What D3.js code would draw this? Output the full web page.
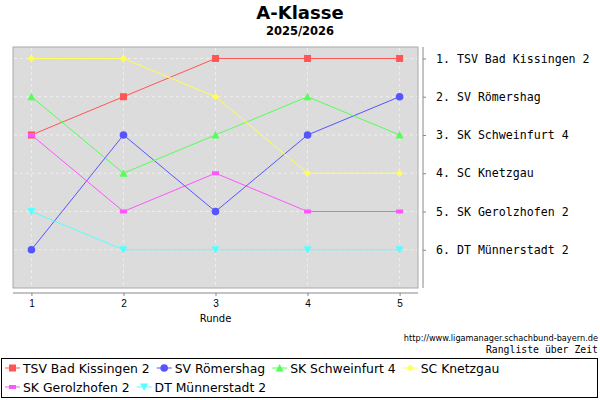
<!DOCTYPE html>
<html>
<head>
<meta charset="utf-8">
<script src="https://cdn.jsdelivr.net/npm/d3@7"></script>
<style>
  body { margin: 0; background: #fff; }
  svg { display: block; }
</style>
</head>
<body>
<script>
// Chart data
const rounds = [1, 2, 3, 4, 5];
const teams = ['TSV Bad Kissingen 2', 'SV Römershag', 'SK Schweinfurt 4', 'SC Knetzgau', 'SK Gerolzhofen 2', 'DT Münnerstadt 2'];
const kissingen = [3, 2, 1, 1, 1];
const roemershag = [6, 3, 5, 3, 2];
const schweinfurt = [2, 4, 3, 2, 3];
const knetzgau = [1, 1, 2, 4, 4];
const gerolzhofen = [3, 5, 4, 5, 5];
const muennerstadt = [5, 6, 6, 6, 6];
const ranks = [1, 2, 3, 4, 5, 6];
const finalTable = ['1. TSV Bad Kissingen 2', '2. SV Römershag', '3. SK Schweinfurt 4', '4. SC Knetzgau', '5. SK Gerolzhofen 2', '6. DT Münnerstadt 2'];

const colors = ['#ff5555', '#5555ff', '#55ff55', '#ffff55', '#ff55ff', '#55ffff'];
const shapes = ['square', 'circle', 'triangle', 'diamond', 'rect', 'triangleDown'];

function drawChart() {
  const W = 600, H = 400;
  const plot = { left: 13, top: 47, right: 418, bottom: 288 };

  const svg = d3.select('body').append('svg')
    .attr('width', W).attr('height', H)
    .style('font-family', '"DejaVu Sans", sans-serif');

  const x = d3.scaleLinear().domain([0.8, 5.2]).range([plot.left, plot.right]);
  const y = d3.scaleLinear().domain([0.7, 7]).range([plot.top, plot.bottom]);

  // Titles
  svg.append('text').attr('x', 300).attr('y', 19).attr('text-anchor', 'middle')
    .style('font-weight', 'bold').style('font-size', '18px').text('A-Klasse');
  svg.append('text').attr('x', 300).attr('y', 35).attr('text-anchor', 'middle')
    .style('font-weight', 'bold').style('font-size', '11.5px').text('2025/2026');

  // Plot background
  svg.append('rect')
    .attr('x', plot.left).attr('y', plot.top)
    .attr('width', plot.right - plot.left).attr('height', plot.bottom - plot.top)
    .attr('fill', '#dcdcdc').attr('stroke', '#aaaaaa');

  // Grid
  svg.append('g').selectAll('line.v').data(rounds).enter().append('line')
    .attr('x1', d => x(d)).attr('x2', d => x(d))
    .attr('y1', plot.top + 1).attr('y2', plot.bottom - 1)
    .attr('stroke', '#f4f4f4').attr('stroke-width', 0.8).attr('stroke-dasharray', '3,3');
  svg.append('g').selectAll('line.h').data(ranks).enter().append('line')
    .attr('y1', d => y(d)).attr('y2', d => y(d))
    .attr('x1', plot.left + 1).attr('x2', plot.right - 1)
    .attr('stroke', '#f4f4f4').attr('stroke-width', 0.8).attr('stroke-dasharray', '3,3');

  // Bottom axis
  const xAxis = svg.append('g')
    .attr('transform', `translate(0, 293)`)
    .call(d3.axisBottom(x).tickValues(rounds).tickSize(3).tickPadding(4).tickFormat(d3.format('d')));
  xAxis.select('.domain').attr('d', `M${plot.left},0H${plot.right}`).attr('stroke', '#888');
  xAxis.selectAll('.tick line').attr('stroke', '#888');
  xAxis.selectAll('text').style('font-size', '10px').attr('fill', '#000');

  svg.append('text').attr('x', x(3)).attr('y', 322).attr('text-anchor', 'middle')
    .style('font-size', '10px').text('Runde');

  // Right axis with final ranking
  const yAxis = svg.append('g')
    .attr('transform', `translate(423, 0)`)
    .call(d3.axisRight(y).tickValues(ranks).tickSize(3).tickPadding(10).tickFormat((d, i) => finalTable[i]));
  yAxis.select('.domain').attr('d', `M0,${plot.top}V${plot.bottom}`).attr('stroke', '#888');
  yAxis.selectAll('.tick line').attr('stroke', '#888');
  yAxis.selectAll('text')
    .style('font-family', '"DejaVu Sans Mono", monospace').style('font-size', '11.6px').attr('fill', '#000');

  // Series
  const series = [kissingen, roemershag, schweinfurt, knetzgau, gerolzhofen, muennerstadt];
  const line = d3.line().x((d, i) => x(rounds[i])).y(d => y(d));

  function marker(g, shape, color) {
    if (shape === 'square') g.append('rect').attr('x', -3.5).attr('y', -3.5).attr('width', 7).attr('height', 7).attr('fill', color);
    if (shape === 'circle') g.append('circle').attr('r', 3.8).attr('fill', color);
    if (shape === 'triangle') g.append('path').attr('d', 'M0,-4L4,3.5L-4,3.5Z').attr('fill', color);
    if (shape === 'diamond') g.append('path').attr('d', 'M0,-3.5L3.5,0L0,3.5L-3.5,0Z').attr('fill', color);
    if (shape === 'rect') g.append('rect').attr('x', -3.5).attr('y', -2).attr('width', 7).attr('height', 4).attr('fill', color);
    if (shape === 'triangleDown') g.append('path').attr('d', 'M-4,-3.5L4,-3.5L0,4Z').attr('fill', color);
  }

  series.forEach((vals, s) => {
    svg.append('path').datum(vals).attr('d', line)
      .attr('fill', 'none').attr('stroke', colors[s]).attr('stroke-width', 1);
    vals.forEach((v, i) => {
      const g = svg.append('g').attr('transform', `translate(${x(rounds[i])},${y(v)})`);
      marker(g, shapes[s], colors[s]);
    });
  });

  // Source text
  svg.append('text').attr('x', 598).attr('y', 341).attr('text-anchor', 'end')
    .style('font-size', '8.2px').text('http://www.ligamanager.schachbund-bayern.de');
  svg.append('text').attr('x', 598).attr('y', 353).attr('text-anchor', 'end')
    .style('font-family', '"DejaVu Sans Mono", monospace').style('font-size', '9.8px').text('Rangliste über Zeit');

  // Legend
  svg.append('rect').attr('x', 1.5).attr('y', 358.5).attr('width', 596).attr('height', 39)
    .attr('fill', '#fff').attr('stroke', '#000');
  const rows = [[0, 1, 2, 3], [4, 5]];
  rows.forEach((row, r) => {
    let cx = 5;
    const cy = 368 + r * 19;
    row.forEach(s => {
      svg.append('line').attr('x1', cx).attr('x2', cx + 15).attr('y1', cy).attr('y2', cy)
        .attr('stroke', colors[s]).attr('stroke-width', 1);
      const g = svg.append('g').attr('transform', `translate(${cx + 7.5},${cy})`);
      marker(g, shapes[s], colors[s]);
      const t = svg.append('text').attr('x', cx + 18).attr('y', cy + 4.5)
        .style('font-size', '12.4px').text(teams[s]);
      cx += 18 + t.node().getComputedTextLength() + 7;
    });
  });
}

drawChart();
</script>
</body>
</html>
